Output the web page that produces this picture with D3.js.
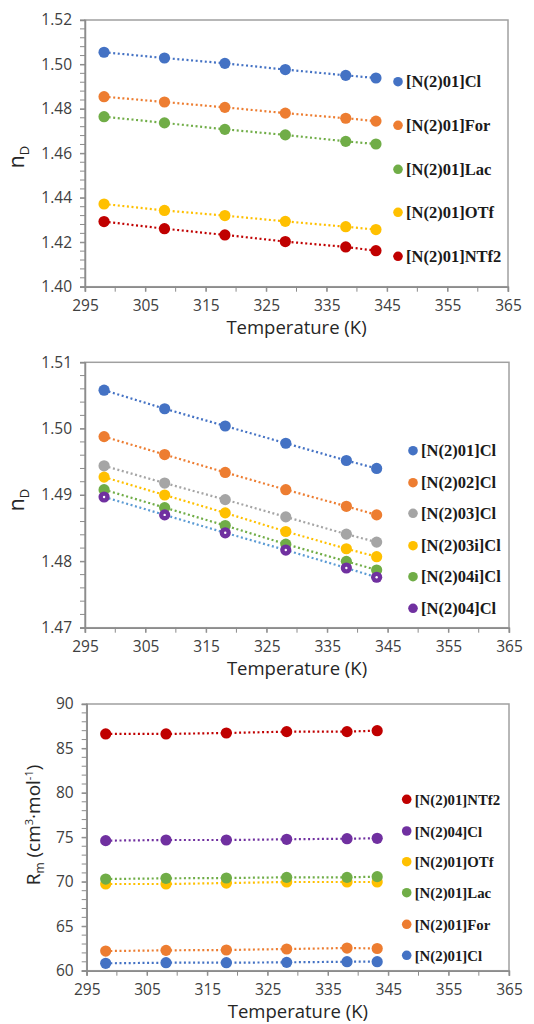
<!DOCTYPE html>
<html>
<head>
<meta charset="utf-8">
<script src="https://cdn.jsdelivr.net/npm/d3@7"></script>
<style>
  body { margin: 0; background: #fff; }
  svg { display: block; }
</style>
</head>
<body>
<svg id="chart" width="534" height="1024"></svg>
<script>
// temperatures (K)
var temps = [298.15, 308.15, 318.15, 328.15, 338.15, 343.15];

// panel 1: refractive index, anion series
var p1Names = ["[N(2)01]Cl", "[N(2)01]For", "[N(2)01]Lac", "[N(2)01]OTf", "[N(2)01]NTf2"];
var p1Cl   = [1.5055, 1.5029, 1.5005, 1.4977, 1.4951, 1.4939];
var p1For  = [1.4855, 1.4831, 1.4807, 1.4781, 1.4758, 1.4745];
var p1Lac  = [1.4765, 1.4737, 1.4708, 1.4683, 1.4654, 1.4642];
var p1OTf  = [1.4372, 1.4343, 1.4320, 1.4294, 1.4270, 1.4257];
var p1NTf2 = [1.4293, 1.4261, 1.4233, 1.4203, 1.4179, 1.4162];

// panel 2: refractive index, cation series
var p2Names = ["[N(2)01]Cl", "[N(2)02]Cl", "[N(2)03]Cl", "[N(2)03i]Cl", "[N(2)04i]Cl", "[N(2)04]Cl"];
var p2N01  = [1.5058, 1.5030, 1.5004, 1.4978, 1.4952, 1.4940];
var p2N02  = [1.4988, 1.4961, 1.4934, 1.4908, 1.4883, 1.4870];
var p2N03  = [1.4944, 1.4918, 1.4893, 1.4867, 1.4841, 1.4829];
var p2N03i = [1.4927, 1.4900, 1.4873, 1.4845, 1.4819, 1.4807];
var p2N04i = [1.4908, 1.4881, 1.4854, 1.4826, 1.4800, 1.4787];
var p2N04  = [1.4897, 1.4870, 1.4843, 1.4817, 1.4790, 1.4776];

// panel 3: molar refraction
var p3Names = ["[N(2)01]NTf2", "[N(2)04]Cl", "[N(2)01]OTf", "[N(2)01]Lac", "[N(2)01]For", "[N(2)01]Cl"];
var p3NTf2 = [86.63, 86.63, 86.74, 86.89, 86.89, 87.00];
var p3N04  = [74.63, 74.70, 74.70, 74.78, 74.85, 74.89];
var p3OTf  = [69.75, 69.75, 69.86, 69.98, 69.98, 69.98];
var p3Lac  = [70.31, 70.39, 70.43, 70.50, 70.50, 70.58];
var p3For  = [62.21, 62.29, 62.33, 62.44, 62.55, 62.50];
var p3Cl   = [60.83, 60.90, 60.90, 60.94, 61.01, 61.01];

var xTicks = [295, 305, 315, 325, 335, 345, 355, 365];

var C = {
  blue: "#4472c4", orange: "#ed7d31", gray: "#a5a5a5", yellow: "#ffc000",
  green: "#70ad47", red: "#c00000", purple: "#7030a0", lblue: "#5b9bd5"
};

var svg = d3.select("#chart");
var tickFont = "'Open Sans', sans-serif";
var legFont = "'Liberation Serif', 'Times New Roman', serif";

// rich label: list of [text, fontSize or null, baseline offset]
function rich(t, parts) {
  var cur = 0;
  parts.forEach(function (p) {
    t.append("tspan").attr("dy", p[2] - cur)
      .style("font-size", p[1] ? p[1] + "px" : null).text(p[0]);
    cur = p[2];
  });
}

function drawPanel(cfg) {
  var x = d3.scaleLinear().domain([295, 365]).range([cfg.left, cfg.right]);
  var y = d3.scaleLinear().domain(cfg.yDomain).range([cfg.bottom, cfg.top]);
  var g = svg.append("g");

  // frame
  g.append("rect")
    .attr("x", cfg.left).attr("y", cfg.top)
    .attr("width", cfg.right - cfg.left).attr("height", cfg.bottom - cfg.top)
    .attr("fill", "none").attr("stroke", "#a0a0a0").attr("stroke-width", 1.5);

  // minor ticks
  var yMinor = d3.range(cfg.yDomain[0], cfg.yDomain[1] + cfg.yMinor / 2, cfg.yMinor);
  g.append("g").selectAll("line").data(yMinor).join("line")
    .attr("x1", cfg.left - 5).attr("x2", cfg.left)
    .attr("y1", d => y(d)).attr("y2", d => y(d))
    .attr("stroke", "#8c8c8c").attr("stroke-width", 1);
  var xMinor = d3.range(295, 366, 5);
  g.append("g").selectAll("line").data(xMinor).join("line")
    .attr("x1", d => x(d)).attr("x2", d => x(d))
    .attr("y1", cfg.bottom).attr("y2", cfg.bottom + 5)
    .attr("stroke", "#8c8c8c").attr("stroke-width", 1);

  // axes
  var yAxis = d3.axisLeft(y).tickValues(cfg.yTicks).tickFormat(cfg.yFmt).tickSize(5).tickPadding(8);
  var ya = g.append("g").attr("transform", "translate(" + cfg.left + ",0)").call(yAxis);
  var xAxis = d3.axisBottom(x).tickValues(xTicks).tickFormat(d3.format("d")).tickSize(5).tickPadding(8);
  var xa = g.append("g").attr("transform", "translate(0," + cfg.bottom + ")").call(xAxis);
  [ya, xa].forEach(function (a) {
    a.select(".domain").attr("stroke", "#8c8c8c").attr("stroke-width", 1.5);
    a.selectAll(".tick line").attr("stroke", "#8c8c8c");
    a.selectAll(".tick text").attr("fill", "#404040")
      .style("font-family", tickFont).style("font-size", "15.5px");
  });

  // x title
  g.append("text")
    .attr("x", (cfg.left + cfg.right) / 2).attr("y", cfg.bottom + 47)
    .attr("text-anchor", "middle").attr("fill", "#262626")
    .style("font-family", tickFont).style("font-size", "18.5px")
    .text("Temperature (K)");

  // y title
  var yt = g.append("text")
    .attr("transform", "translate(" + cfg.yTitleX + "," + cfg.yTitleY + ") rotate(-90)")
    .attr("text-anchor", "middle").attr("fill", "#262626")
    .style("font-family", tickFont).style("font-size", cfg.yTitleSize + "px");
  rich(yt, cfg.yTitle);

  // series
  var line = d3.line().x((d, i) => x(temps[i])).y(d => y(d));
  cfg.series.forEach(function (s) {
    g.append("path").datum(s.values)
      .attr("d", line).attr("fill", "none")
      .attr("stroke", s.lineColor || s.color).attr("stroke-width", 2.2)
      .attr("stroke-dasharray", "2 2.6");
  });
  cfg.series.forEach(function (s) {
    g.append("g").selectAll("circle").data(s.values).join("circle")
      .attr("cx", (d, i) => x(temps[i])).attr("cy", d => y(d))
      .attr("r", cfg.r).attr("fill", s.color);
    if (s.dot) {
      g.append("g").selectAll("circle").data(s.values).join("circle")
        .attr("cx", (d, i) => x(temps[i])).attr("cy", d => y(d))
        .attr("r", 1.2).attr("fill", "#fff");
    }
  });

  // legend
  cfg.legend.forEach(function (l, i) {
    var ly = cfg.legY[i];
    g.append("circle").attr("cx", cfg.legX).attr("cy", ly).attr("r", 4.8).attr("fill", l.color);
    g.append("text").attr("x", cfg.legX + 8).attr("y", ly + 5.5)
      .attr("fill", "#1a1a1a")
      .style("font-family", legFont).style("font-weight", "bold")
      .style("font-size", cfg.legSize + "px")
      .text(l.name);
  });
}

var nDLabel = [["n", null, 0], ["D", 13, 5]];

// panel 1
drawPanel({
  left: 85, right: 508, top: 20, bottom: 286.7,
  yDomain: [1.40, 1.52], yTicks: d3.range(1.40, 1.521, 0.02), yMinor: 0.004,
  yFmt: d3.format(".2f"), r: 5.6,
  yTitleX: 24, yTitleY: 157, yTitleSize: 21,
  yTitle: nDLabel,
  series: [
    { values: p1Cl, color: C.blue },
    { values: p1For, color: C.orange },
    { values: p1Lac, color: C.green },
    { values: p1OTf, color: C.yellow },
    { values: p1NTf2, color: C.red }
  ],
  legend: p1Names.map((n, i) => ({ name: n, color: [C.blue, C.orange, C.green, C.yellow, C.red][i] })),
  legX: 398, legY: [81.7, 125.3, 169.3, 212.3, 256.3], legSize: 16.5
});

// panel 2
drawPanel({
  left: 85, right: 509, top: 362.3, bottom: 627.7,
  yDomain: [1.47, 1.51], yTicks: d3.range(1.47, 1.5101, 0.01), yMinor: 0.002,
  yFmt: d3.format(".2f"), r: 5.6,
  yTitleX: 24, yTitleY: 500, yTitleSize: 21,
  yTitle: nDLabel,
  series: [
    { values: p2N01, color: C.blue },
    { values: p2N02, color: C.orange },
    { values: p2N03, color: C.gray },
    { values: p2N03i, color: C.yellow },
    { values: p2N04i, color: C.green },
    { values: p2N04, color: C.purple, lineColor: C.lblue, dot: true }
  ],
  legend: p2Names.map((n, i) => ({ name: n, color: [C.blue, C.orange, C.gray, C.yellow, C.green, C.purple][i] })),
  legX: 413, legY: [450.7, 482.7, 513.3, 545.7, 576.7, 608.3], legSize: 16.5
});

// panel 3
drawPanel({
  left: 86.7, right: 509, top: 704, bottom: 970.7,
  yDomain: [60, 90], yTicks: d3.range(60, 91, 5), yMinor: 1,
  yFmt: d3.format("d"), r: 5.6,
  yTitleX: 40, yTitleY: 825, yTitleSize: 19,
  yTitle: [["R", null, 0], ["m", 12, 4], [" (cm", null, 0], ["3", 11, -7],
           ["·mol", null, 0], ["-1", 11, -7], [")", null, 0]],
  series: [
    { values: p3Cl, color: C.blue },
    { values: p3For, color: C.orange },
    { values: p3OTf, color: C.yellow },
    { values: p3Lac, color: C.green },
    { values: p3N04, color: C.purple },
    { values: p3NTf2, color: C.red }
  ],
  legend: p3Names.map((n, i) => ({ name: n, color: [C.red, C.purple, C.yellow, C.green, C.orange, C.blue][i] })),
  legX: 406.7, legY: [799.3, 831, 861.7, 892.7, 924.3, 955.3], legSize: 14.8
});
</script>
</body>
</html>
